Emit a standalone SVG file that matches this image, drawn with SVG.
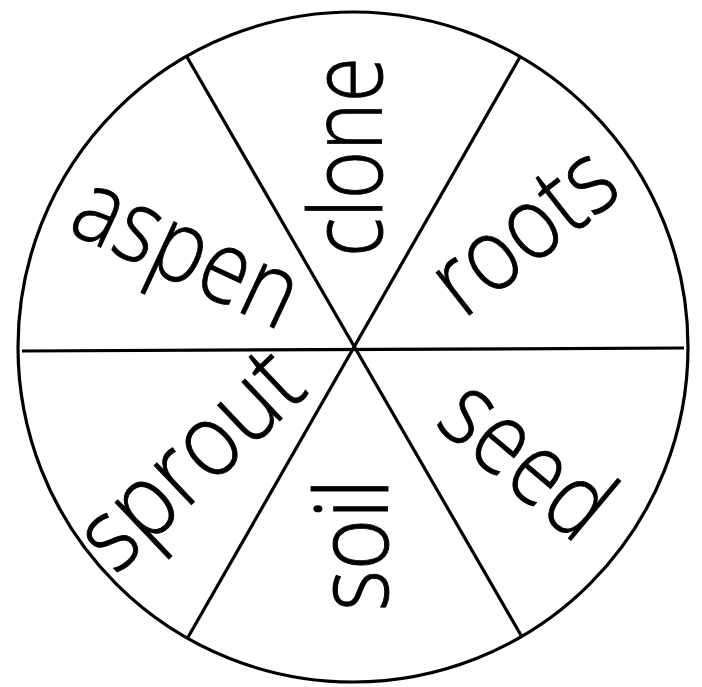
<svg xmlns="http://www.w3.org/2000/svg" width="702" height="687" viewBox="0 0 702 687">
<style>
.w{font-family:"Open Sans","Liberation Sans",sans-serif;font-weight:300;font-size:102px;fill:#000;stroke:#000;stroke-width:0.9;text-anchor:middle}
.l{stroke:#000;stroke-width:3.2;fill:none;stroke-linecap:butt}
</style>
<rect width="702" height="687" fill="#fff"/>
<g id="connectors">
<circle class="l" cx="353" cy="347" r="335" stroke-width="4.5"/>
<line class="l" x1="22" y1="351" x2="684" y2="348"/>
<line class="l" x1="187" y1="57" x2="522" y2="637"/>
<line class="l" x1="520" y1="57" x2="187" y2="639"/>
</g>
<g id="clone"><text class="w" transform="translate(382,157) rotate(-90)" textLength="200" lengthAdjust="spacingAndGlyphs">clone</text></g>
<g id="roots"><text class="w" transform="translate(544,257) rotate(-38)" textLength="205" lengthAdjust="spacingAndGlyphs">roots</text></g>
<g id="seed"><text class="w" transform="translate(505,485) rotate(40)" textLength="188" lengthAdjust="spacingAndGlyphs">seed</text></g>
<g id="soil"><text class="w" transform="translate(388,545) rotate(-90)" textLength="132" lengthAdjust="spacingAndGlyphs">soil</text></g>
<g id="sprout"><text class="w" transform="translate(213,484) rotate(-43.5)" textLength="268" lengthAdjust="spacingAndGlyphs">sprout</text></g>
<g id="aspen"><text class="w" transform="translate(173,281) rotate(25)" textLength="237" lengthAdjust="spacingAndGlyphs">aspen</text></g>
</svg>
